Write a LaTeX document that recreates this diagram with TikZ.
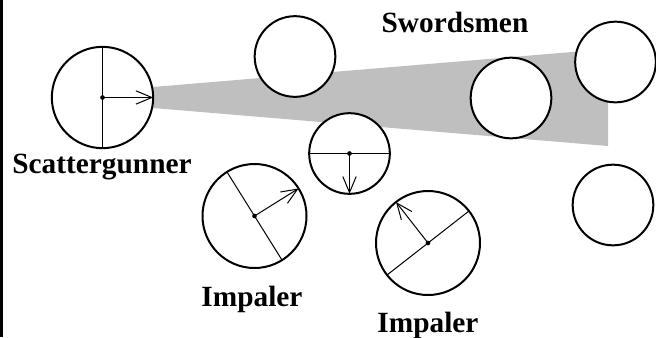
\documentclass[tikz,border=0pt]{standalone}
\usepackage{fontspec}
\setmainfont{Liberation Serif}
\usetikzlibrary{arrows.meta}
\begin{document}
\begin{tikzpicture}[x=0.75pt,y=-0.75pt,
    unit/.style ={circle, draw, fill=white, line width=1.5pt, minimum size=60.5pt, inner sep=0pt, outer sep=0pt},
    big/.style  ={unit, minimum size=76pt},
    axis/.style ={line width=0.75pt},
    face/.style ={line width=0.75pt, -{Straight Barb[length=12pt,width=10pt]}},
    pivot/.style={circle, fill, inner sep=0pt, minimum size=3.5pt},
    lbl/.style  ={font=\fontsize{22}{24}\selectfont\bfseries, anchor=base},
  ]
  \useasboundingbox (0,0) rectangle (656,337);
  \draw[line width=2.25pt] (1.5,0) -- (1.5,337);
  % firing cone
  \fill[black!25] (153,87) -- (608,49) -- (608,146) -- (153,108) -- cycle;
  % Scattergunner
  \node[big] (sg) at (102.5,97.5) {};
  \draw[axis] (sg.90) -- (sg.270);
  \draw[face] (sg.center) -- (sg.0);
  \node[pivot] (sgp) at (sg.center) {};
  \node[lbl] (sgl) at (102,173) {Scattergunner};
  % Swordsmen
  \node[unit] (sw1) at (295,56.5) {};
  \node[unit] (sw2) at (511,98) {};
  \node[unit] (sw3) at (615.5,62) {};
  \node[unit] (sw4) at (613,205) {};
  \node[lbl] (swl) at (455,32) {Swordsmen};
  % middle unit
  \node[unit] (mid) at (349.5,153.5) {};
  \draw[axis] (mid.180) -- (mid.0);
  \draw[face] (mid.center) -- (mid.270);
  \node[pivot] (midp) at (mid.center) {};
  % Impalers
  \node[big, minimum size=78pt] (ipa) at (254.5,216) {};
  \draw[axis] (ipa.122) -- (ipa.302);
  \draw[face] (ipa.center) -- (ipa.32);
  \node[pivot] (ipap) at (ipa.center) {};
  \node[lbl] (ipal) at (252,306) {Impaler};
  \node[big, minimum size=78pt] (ipb) at (428,243) {};
  \draw[axis] (ipb.38.7) -- (ipb.218.7);
  \draw[face] (ipb.center) -- (ipb.128.7);
  \node[pivot] (ipbp) at (ipb.center) {};
  \node[lbl] (ipbl) at (428,332) {Impaler};
\end{tikzpicture}
\end{document}
